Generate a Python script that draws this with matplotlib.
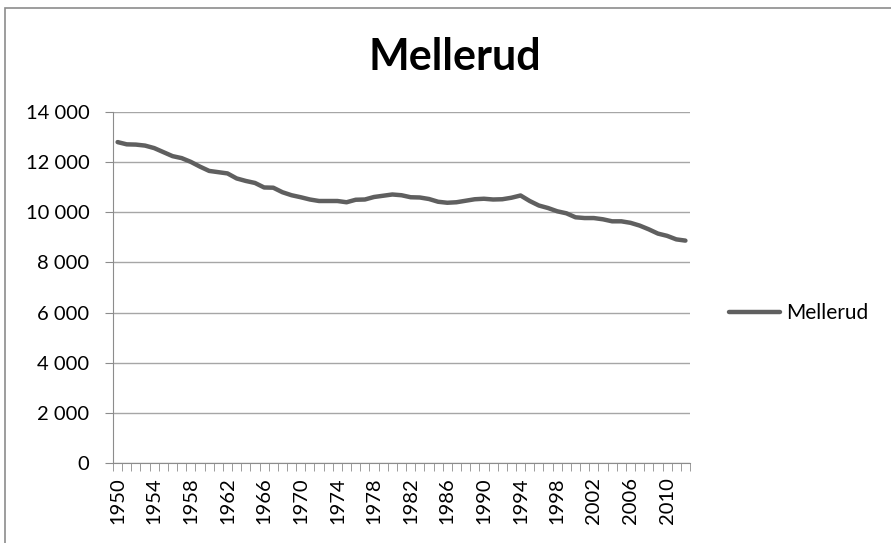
import numpy as np
import matplotlib
matplotlib.use("Agg")
import matplotlib.pyplot as plt
from matplotlib.ticker import FuncFormatter, FixedLocator
from matplotlib.patches import Rectangle

plt.rcParams['font.family'] = ['Lato', 'DejaVu Sans']

years = list(range(1950, 2013))
population = [12800, 12710, 12700, 12660, 12560, 12400, 12240, 12160, 12010, 11820,
              11650, 11600, 11550, 11350, 11250, 11170, 10990, 10980, 10800, 10680,
              10600, 10510, 10450, 10450, 10450, 10400, 10500, 10510, 10610, 10660,
              10710, 10680, 10600, 10590, 10530, 10420, 10380, 10400, 10460, 10520,
              10540, 10510, 10520, 10580, 10670, 10450, 10270, 10170, 10040, 9960,
              9800, 9770, 9770, 9720, 9640, 9640, 9580, 9470, 9320, 9150,
              9060, 8920, 8870]
yticks = [0, 2000, 4000, 6000, 8000, 10000, 12000, 14000]

fig = plt.figure(figsize=(8.91, 5.43), dpi=100)
fig.patches.append(Rectangle((5/891, -0.1), 1.2, 1 - 8/543 + 0.1, transform=fig.transFigure,
                             fill=False, edgecolor='#8c8c8c', linewidth=1.2))
ax = fig.add_axes([113/891, 1 - 463/543, 577/891, 351/543])

x = np.arange(len(years))
line, = ax.plot(x, population, color='#5f5f5f', linewidth=3.2, solid_capstyle='round',
                label='Mellerud')

ax.set_xlim(-0.5, len(years) - 0.5)
ax.set_ylim(0, 14000)
ax.set_yticks(yticks)
ax.yaxis.set_major_formatter(FuncFormatter(lambda v, p: f"{int(v):,}".replace(",", " ")))
ax.grid(axis='y', color='#a6a6a6', linewidth=1)
ax.set_axisbelow(True)

ax.xaxis.set_major_locator(FixedLocator(x[::4]))
ax.set_xticklabels([str(y) for y in years[::4]], rotation=90)
ax.xaxis.set_minor_locator(FixedLocator(np.arange(-0.5, len(years), 1)))
ax.tick_params(axis='x', which='major', length=0, pad=10, labelsize=14.5)
ax.tick_params(axis='x', which='minor', length=6, color='#8c8c8c', direction='out')
ax.tick_params(axis='y', length=6, color='#8c8c8c', labelsize=14.5, pad=11)

for s in ['top', 'right']:
    ax.spines[s].set_visible(False)
for s in ['left', 'bottom']:
    ax.spines[s].set_color('#8c8c8c')

fig.text(455/891, 1 - 57/543, 'Mellerud', ha='center', va='center',
         fontsize=31, fontweight='bold')

fig.legend(handles=[line], loc='center left', bbox_to_anchor=(729/891, 1 - 313/543),
           frameon=False, fontsize=15, handlelength=2.45, handletextpad=0.3,
           borderaxespad=0, borderpad=0)

fig.savefig('out.png', dpi=100)
